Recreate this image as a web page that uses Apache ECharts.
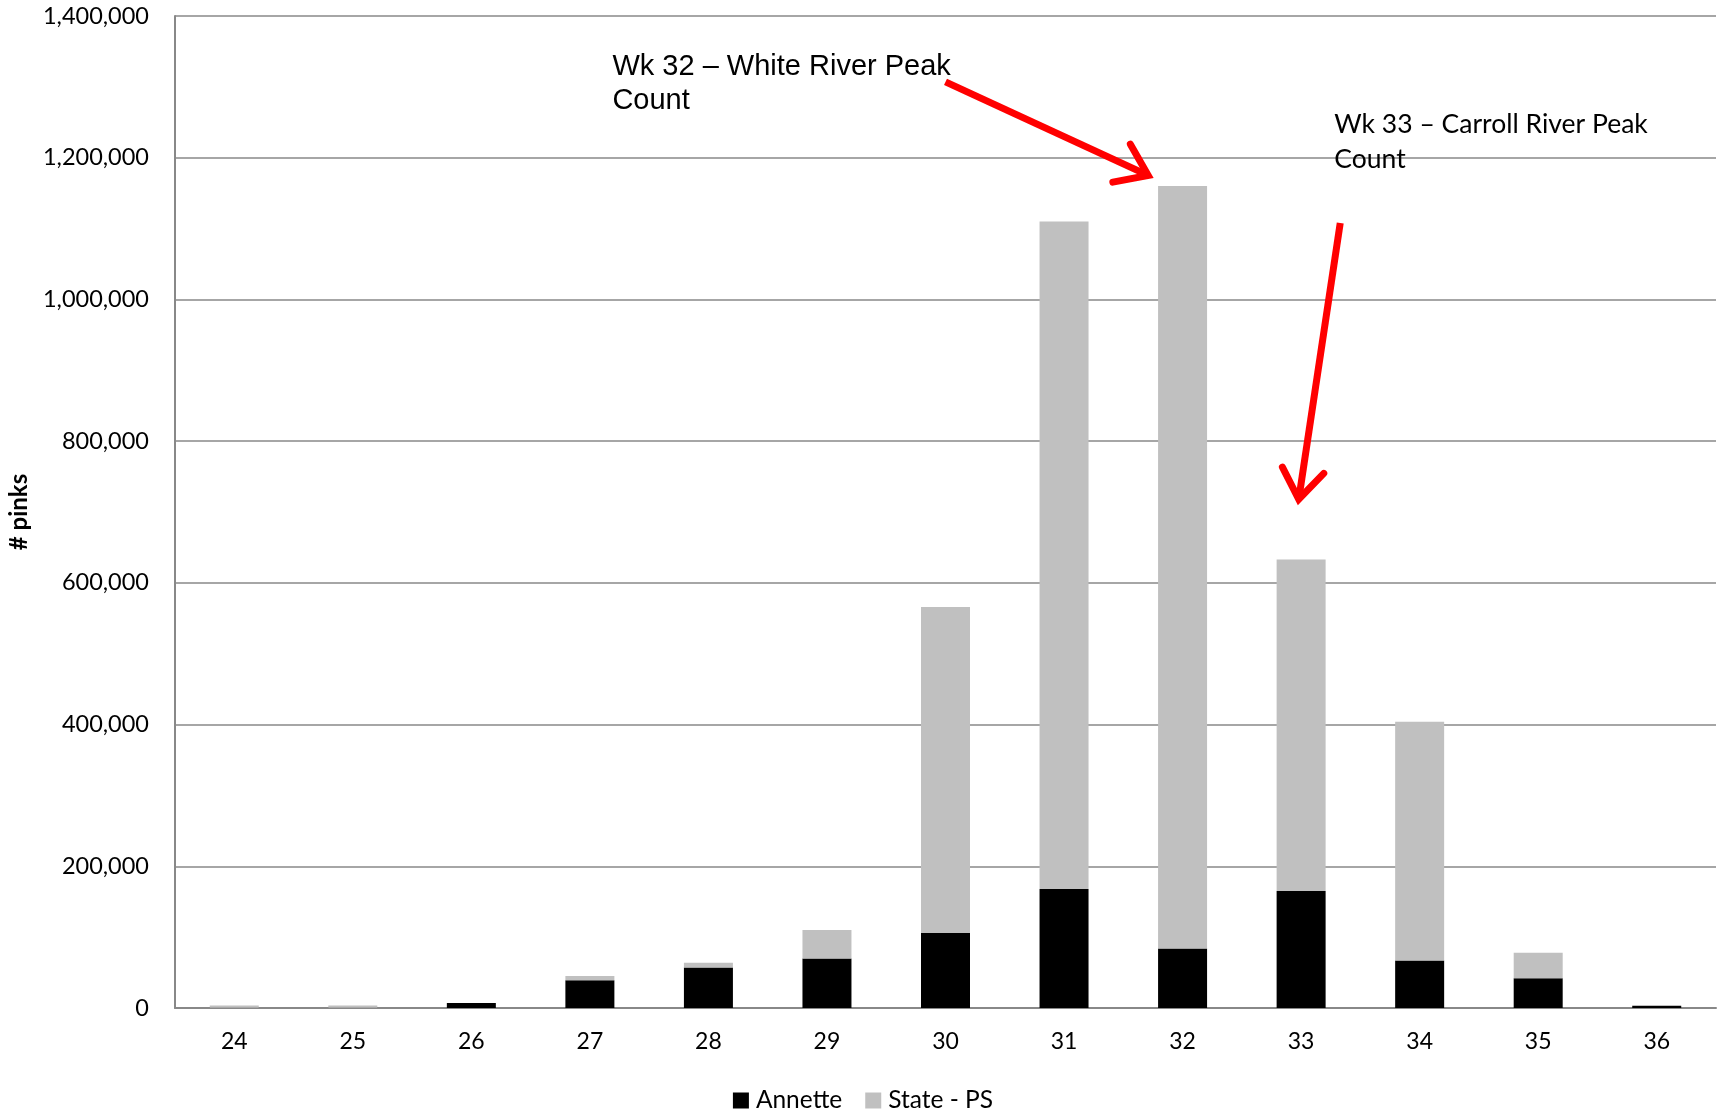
<!DOCTYPE html>
<html>
<head>
<meta charset="utf-8">
<script src="https://cdn.jsdelivr.net/npm/echarts@6/dist/echarts.min.js"></script>
<style>html,body{margin:0;padding:0;background:#fff}#c{width:1726px;height:1111px}</style>
</head>
<body>
<div id="c"></div>
<script>
const weeks = ['24','25','26','27','28','29','30','31','32','33','34','35','36'];
const annette = [500, 500, 7000, 39000, 57000, 70000, 106000, 168000, 84000, 165000, 67000, 42000, 3000];
const statePS = [3000, 3000, 0, 6000, 7000, 40000, 460000, 942000, 1076000, 468000, 337000, 36000, 0];
const yTicks = [0, 200000, 400000, 600000, 800000, 1000000, 1200000, 1400000];

const chart = echarts.init(document.getElementById('c'));
const fmt = v => v.toLocaleString('en-US');

chart.setOption({
  animation: false,
  backgroundColor: '#ffffff',
  grid: {left: 175, right: 10, top: 16, bottom: 103, containLabel: false, outerBoundsMode: 'none'},
  legend: {
    data: ['Annette', 'State - PS'],
    top: 1083, left: 'center',
    icon: 'rect', itemWidth: 16, itemHeight: 16, itemGap: 23,
    textStyle: {fontFamily: 'Lato', fontSize: 24.5, color: '#000', padding: [0, 0, 0, 2]}
  },
  xAxis: {
    type: 'category', data: weeks,
    axisLine: {lineStyle: {color: '#888', width: 2}},
    axisTick: {show: false},
    axisLabel: {fontFamily: 'Lato', fontSize: 23, color: '#000', margin: 22}
  },
  yAxis: {
    type: 'value', min: yTicks[0], max: yTicks[yTicks.length-1], interval: 200000,
    name: '# pinks', nameLocation: 'middle', nameGap: 144,
    nameTextStyle: {fontFamily: 'Lato', fontSize: 24, fontWeight: 'bold', color: '#000'},
    axisLine: {show: true, lineStyle: {color: '#888', width: 2}},
    axisTick: {show: false},
    splitLine: {lineStyle: {color: '#888', width: 1.5}},
    axisLabel: {fontFamily: 'Lato', fontSize: 23.5, color: '#000', margin: 26, formatter: fmt}
  },
  series: [
    {name: 'Annette', type: 'bar', stack: 'a', data: annette, barWidth: 49,
     itemStyle: {color: '#000000'}},
    {name: 'State - PS', type: 'bar', stack: 'a', data: statePS, barWidth: 49,
     itemStyle: {color: '#C0C0C0'}}
  ]
});

// Annotations anchored in data space (fractional category index, value)
const notes = [
  {text: 'Wk 32 \u2013 White River Peak\nCount', at: [3.19, 1352000], font: 'Liberation Sans', size: 29, lh: 34},
  {text: 'Wk 33 \u2013 Carroll River Peak\nCount', at: [9.28, 1272000], font: 'Lato', size: 26.5, lh: 35}
];
const arrows = [
  {from: [6.00, 1307000], to: [7.71, 1175000]},
  {from: [9.33, 1108000], to: [8.98, 718000]}
];
const p0 = chart.convertToPixel({xAxisIndex: 0, yAxisIndex: 0}, [0, 0]);
const p1 = chart.convertToPixel({xAxisIndex: 0, yAxisIndex: 0}, [1, 0]);
const px = p => {
  const y = chart.convertToPixel({yAxisIndex: 0}, p[1]);
  return [p0[0] + (p1[0] - p0[0]) * p[0], y];
};
const g = [];
notes.forEach(n => {
  const p = px(n.at);
  g.push({type: 'text', x: p[0], y: p[1], style: {text: n.text, fontFamily: n.font, fontSize: n.size, lineHeight: n.lh, fill: '#000'}, z: 10});
});
arrows.forEach(a => {
  const s = px(a.from), t = px(a.to);
  const ang = Math.atan2(t[1]-s[1], t[0]-s[0]);
  const L = 36, w = 0.62;
  const w1 = [t[0] - L*Math.cos(ang - w), t[1] - L*Math.sin(ang - w)];
  const w2 = [t[0] - L*Math.cos(ang + w), t[1] - L*Math.sin(ang + w)];
  g.push({type: 'polyline', shape: {points: [s, t]}, style: {stroke: '#FF0000', lineWidth: 7, lineCap: 'butt'}, z: 10});
  g.push({type: 'polyline', shape: {points: [w1, t, w2]}, style: {stroke: '#FF0000', lineWidth: 7, lineCap: 'round', lineJoin: 'miter', fill: null}, z: 10});
});
chart.setOption({graphic: g});
</script>
</body>
</html>
